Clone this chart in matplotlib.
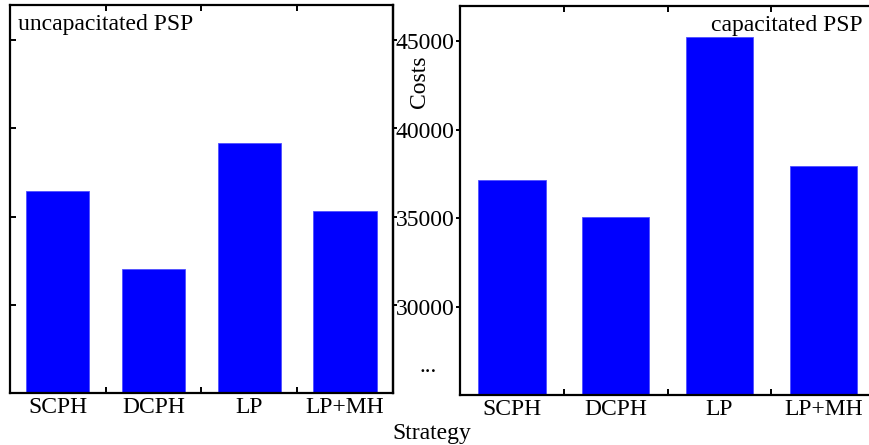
import matplotlib.pyplot as plt
import numpy as np

plt.rcParams["font.family"] = ["Liberation Serif", "DejaVu Serif"]

STRATEGIES = ["SCPH", "DCPH", "LP", "LP+MH"]
UNCAP_COSTS = [36450, 32050, 39150, 35300]
CAP_COSTS = [37150, 35050, 45230, 37950]
Y_TICKS = [30000, 35000, 40000, 45000]
Y_MIN, Y_MAX = 25000, 47000

BLUE = "#0000ff"
EDGE = "#5050ff"
FS = 17


def style_panel(ax):
    for sp in ax.spines.values():
        sp.set_linewidth(1.6)
    ax.set_xlim(-0.5, 3.5)
    ax.set_ylim(Y_MIN, Y_MAX)
    ax.set_xticks(np.arange(len(STRATEGIES)))
    ax.set_xticklabels(STRATEGIES, fontsize=FS)
    ax.set_xticks([0.5, 1.5, 2.5], minor=True)
    ax.tick_params(axis="x", which="major", length=0, pad=3)
    ax.tick_params(axis="x", which="minor", direction="in", length=4,
                   width=1.4, top=True, bottom=True)
    ax.set_yticks(Y_TICKS)


fig = plt.figure(figsize=(8.69, 4.45), dpi=100)
ax1 = fig.add_axes([0.0115, 0.1169, 0.4407, 0.8719])
ax2 = fig.add_axes([0.5293, 0.1124, 0.4780, 0.8741])

xpos = np.arange(len(STRATEGIES))

# uncapacitated panel
ax1.bar(xpos, UNCAP_COSTS, width=0.66, color=BLUE, edgecolor=EDGE, linewidth=0.6)
style_panel(ax1)
ax1.tick_params(axis="y", direction="in", length=4, width=1.4, labelleft=False)
sec = ax1.secondary_yaxis("right")
sec.set_yticks(Y_TICKS)
sec.tick_params(direction="out", length=3, width=1.4, labelright=False)
sec.spines["right"].set_linewidth(1.6)
ax1.text(0.022, 0.978, "uncapacitated PSP", transform=ax1.transAxes,
         ha="left", va="top", fontsize=FS)

# capacitated panel
ax2.bar(xpos, CAP_COSTS, width=0.65, color=BLUE, edgecolor=EDGE, linewidth=0.6)
style_panel(ax2)
ax2.tick_params(axis="y", direction="out", length=3, width=1.4,
                labelsize=FS, pad=1)
sec2 = ax2.secondary_yaxis("right")
sec2.set_yticks(Y_TICKS)
sec2.tick_params(direction="in", length=3, width=1.4, labelright=False)
ax2.text(0.97, 0.978, "capacitated PSP", transform=ax2.transAxes,
         ha="right", va="top", fontsize=FS)

fig.text(428 / 869, 1 - 366 / 445, "...", ha="center", va="center", fontsize=FS)
fig.text(420 / 869, 1 - 82 / 445, "Costs", rotation=90, ha="center",
         va="center", fontsize=FS)
fig.text(432 / 869, 1 - 433 / 445, "Strategy", ha="center", va="center",
         fontsize=FS)

fig.savefig("out.png", dpi=100)
